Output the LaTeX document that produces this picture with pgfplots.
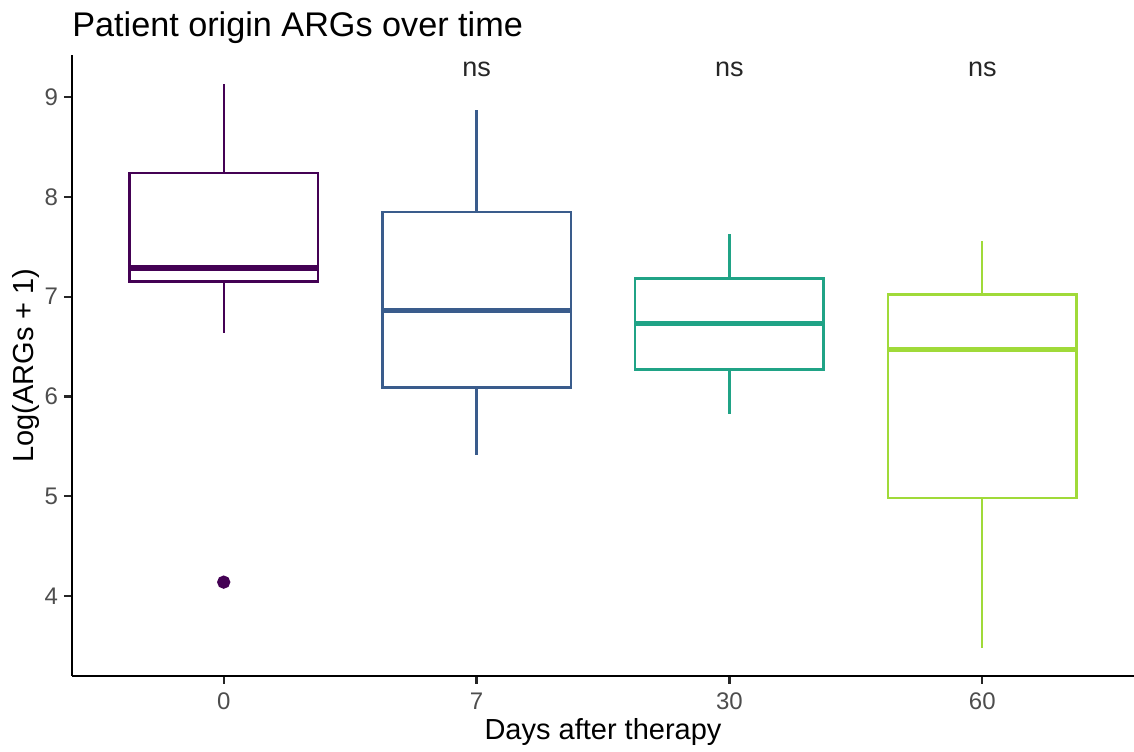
\documentclass[border=0pt]{standalone}
\usepackage{pgfplots}
\pgfplotsset{compat=1.18}
\usepgfplotslibrary{statistics}
\usepackage{fontspec}
\setmainfont{Liberation Sans}
\definecolor{v1}{HTML}{440154}
\definecolor{v2}{HTML}{3A5C8C}
\definecolor{v3}{HTML}{20A386}
\definecolor{v4}{HTML}{A0DA39}
\definecolor{tickgray}{HTML}{4D4D4D}
\begin{document}
\begin{tikzpicture}
\begin{axis}[
  scale only axis,
  width=531pt, height=310.5pt,
  xmin=0.4, xmax=4.6, ymin=3.2, ymax=9.42,
  axis x line*=bottom, axis y line*=left,
  axis line style={line width=1.2pt, -},
  xtick={1,2,3,4}, xticklabels={0,7,30,60},
  ytick={4,5,6,7,8,9},
  tick align=outside, major tick length=4pt,
  tick style={line width=1.1pt, black!85},
  ticklabel style={font=\fontsize{12}{14}\selectfont, text=tickgray},
  /pgf/number format/assume math mode=true,
  xticklabel style={yshift=-1pt},
  yticklabel style={xshift=0.5pt},
  xlabel={Days after therapy},
  ylabel={Log(ARGs + 1)},
  label style={font=\fontsize{14.5}{16}\selectfont},
  xlabel style={at={(axis description cs:0.5,0)}, anchor=base, yshift=-32pt},
  ylabel style={at={(axis description cs:0,0.5)}, anchor=base, rotate=0, yshift=19pt},
  title={Patient origin ARGs over time},
  title style={at={(axis description cs:0,1)}, anchor=base west, inner sep=0pt, yshift=3pt, font=\fontsize{17.1}{19}\selectfont},
  boxplot/draw direction=y,
  boxplot/box extend=0.745,
  boxplot/whisker extend=0,
  boxplot/every median/.style={line width=2.9pt},
  clip=false,
]
\addplot[v1, line width=1.2pt, solid, mark=*, mark size=2.7pt, mark options={fill=v1, draw=v1},
  boxplot prepared={draw position=1, lower whisker=6.64, lower quartile=7.15,
    median=7.29, upper quartile=8.24, upper whisker=9.13}]
  coordinates {(0,4.14)};
\addplot[v2, line width=1.2pt, solid,
  boxplot prepared={draw position=2, lower whisker=5.41, lower quartile=6.09,
    median=6.86, upper quartile=7.85, upper whisker=8.87}]
  coordinates {};
\addplot[v3, line width=1.2pt, solid,
  boxplot prepared={draw position=3, lower whisker=5.82, lower quartile=6.27,
    median=6.73, upper quartile=7.18, upper whisker=7.63}]
  coordinates {};
\addplot[v4, line width=1.2pt, solid,
  boxplot prepared={draw position=4, lower whisker=3.48, lower quartile=4.98,
    median=6.47, upper quartile=7.02, upper whisker=7.56}]
  coordinates {};
\node[anchor=base, font=\fontsize{13.5}{15}\selectfont, text=black!85] at (axis cs:2,9.2) {ns};
\node[anchor=base, font=\fontsize{13.5}{15}\selectfont, text=black!85] at (axis cs:3,9.2) {ns};
\node[anchor=base, font=\fontsize{13.5}{15}\selectfont, text=black!85] at (axis cs:4,9.2) {ns};
\coordinate (sw) at (rel axis cs:0,0);
\coordinate (ne) at (rel axis cs:1,1);
\end{axis}
\pgfresetboundingbox
\path ([xshift=-36pt,yshift=-38pt]sw) rectangle ([yshift=27.5pt]ne);
\end{tikzpicture}
\end{document}
